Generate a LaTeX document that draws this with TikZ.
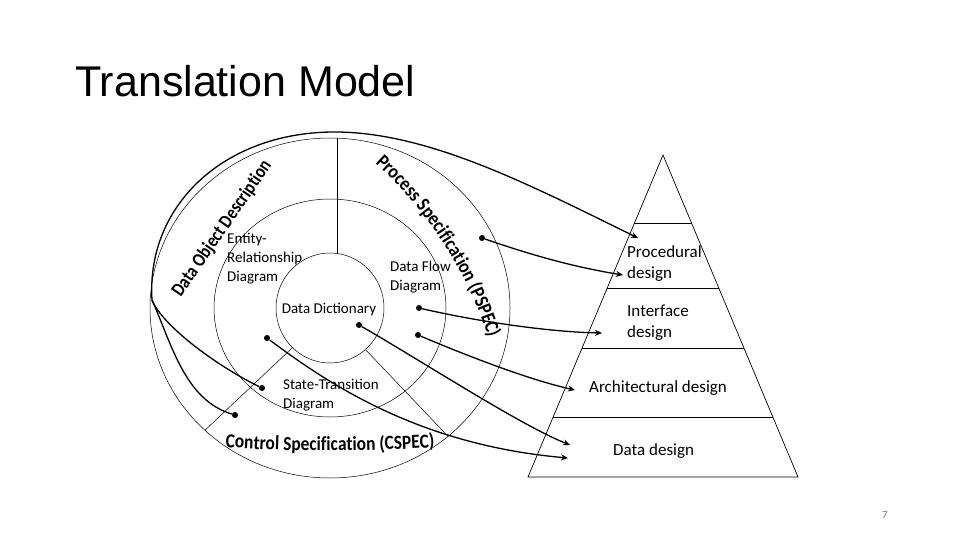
\documentclass[tikz,border=0pt]{standalone}
\usepackage{fontspec}
\setmainfont{Carlito}
\newfontfamily\titlefont{Liberation Sans}
\newfontfamily\arcfont{Carlito}[FakeStretch=0.87,BoldFeatures={FakeStretch=0.87}]
\newfontfamily\arcfontn{Carlito}[FakeStretch=0.83,BoldFeatures={FakeStretch=0.83}]
\usetikzlibrary{decorations.text,arrows.meta,calc}
\begin{document}
\begin{tikzpicture}[x=1pt,y=-1pt,
  ring/.style={line width=0.5pt},
  pyr/.style={line width=0.7pt},
  link/.style={line width=1.3pt},
  conn/.style={line width=1.3pt,-{Stealth[length=7pt,width=6pt]}},
  dot/.style={circle,fill=black,inner sep=0pt,minimum size=6pt},
  lbl/.style={font=\fontsize{15}{19}\selectfont,align=left,inner sep=0pt},
  plbl/.style={font=\fontsize{17}{20.5}\selectfont,align=left,inner sep=0pt},
  arc text/.style={decorate,decoration={text along path,text align=center,
     text={|\arcfont\bfseries\fontsize{20}{20}\selectfont|#1}}},
  arc textn/.style={decorate,decoration={text along path,text align=center,
     text={|\arcfontn\bfseries\fontsize{19.5}{20}\selectfont|#1}}}
]
\fill[white] (0,0) rectangle (960,540);
\useasboundingbox (0,0) rectangle (960,540);

% title
\node[anchor=base west,inner sep=0pt,font=\titlefont\fontsize{43}{50}\selectfont] (title) at (75,97) {Translation Model};

% rings
\coordinate (c) at (330,308);
\draw[ring] (c) ellipse[x radius=180,y radius=170];
\draw[ring] (c) ellipse[x radius=116,y radius=109];
\draw[ring] (c) ellipse[x radius=54,y radius=55];
\draw[ring] (337,138) -- (337,253.5);
\draw[ring] (292.5,347.6) -- (204.9,430.3);
\draw[ring] (365.4,349.5) -- (448,436.3);

% curved ring texts
\coordinate (doA) at (164,322.3);
\coordinate (doB) at (288.8,141.1);
\path[arc textn={Data Object Description}] (doA) -- (doB);
\coordinate (pc) at (102.7,464.4);
\path[arc text={Process Specification (PSPEC)}] ($(pc)+(-62:406)$) arc[start angle=-62,end angle=-4,radius=406];
\coordinate (cc) at (330,-1049);
\path[arc text={Control Specification (CSPEC)}] ($(cc)+(-265:1500)$) arc[start angle=-265,end angle=-275,radius=1500];

% ring labels
\node[lbl,anchor=base west] (er) at (227,281) {Entity-\\Relationship\\Diagram};
\node[lbl,anchor=base west] (dfd) at (390,290) {Data Flow\\Diagram};
\node[lbl,anchor=base] (dd) at (329,313) {Data Dictionary};
\node[lbl,anchor=base west] (std) at (283,408) {State-Transition\\Diagram};

% pyramid
\coordinate (apex) at (663,155);
\coordinate (bl) at (528,477);
\coordinate (br) at (798,477);
\draw[pyr] (apex) -- (br) -- (bl) -- cycle;
\foreach \f in {0.2112,0.4130,0.5994,0.8137}
  \draw[line width=0.9pt] ($(apex)!\f!(bl)$) -- ($(apex)!\f!(br)$);
\node[plbl,anchor=base west] (proc) at (627,278) {Procedural\\design};
\node[plbl,anchor=base west] (intf) at (627,337) {Interface\\design};
\node[plbl,anchor=base west] (arch) at (589,392) {Architectural design};
\node[plbl,anchor=base west] (ddes) at (613,455) {Data design};

% page number
\node[font=\fontsize{11}{11}\selectfont,text=gray,anchor=base,inner sep=0pt] (pg) at (885,518) {7};

% dots
\node[dot] (d1) at (482,238) {};
\node[dot] (d2) at (419,308) {};
\node[dot] (d3) at (418,335) {};
\node[dot] (d4) at (359,325) {};
\node[dot] (d5) at (267,338) {};
\node[dot] (d7) at (262,388) {};
\node[dot] (d8) at (235,415) {};

% arrow targets
\coordinate (a1) at (638,238);
\coordinate (a2) at (623,275);
\coordinate (a3) at (602,333);
\coordinate (a4) at (575,390);
\coordinate (a5) at (570,445);
\coordinate (a6) at (568,458);
\coordinate (j) at (152,300);
\coordinate (top) at (337,132);

% connectors
\draw[link] (d7) .. controls (215,365) and (162,325) .. (j);
\draw[link] (d8) .. controls (185,400) and (172,345) .. (j);
\draw[conn] (j) .. controls (146,205) and (225,131) .. (top) .. controls (430,133) and (530,185) .. (a1);
\draw[conn] (d1) .. controls (540,258) and (580,268) .. (a2);
\draw[conn] (d2) .. controls (480,322) and (550,332) .. (a3);
\draw[conn] (d3) .. controls (470,357) and (530,380) .. (a4);
\draw[conn] (d4) .. controls (420,360) and (520,425) .. (a5);
\draw[conn] (d5) .. controls (330,385) and (420,445) .. (a6);
\end{tikzpicture}
\end{document}
